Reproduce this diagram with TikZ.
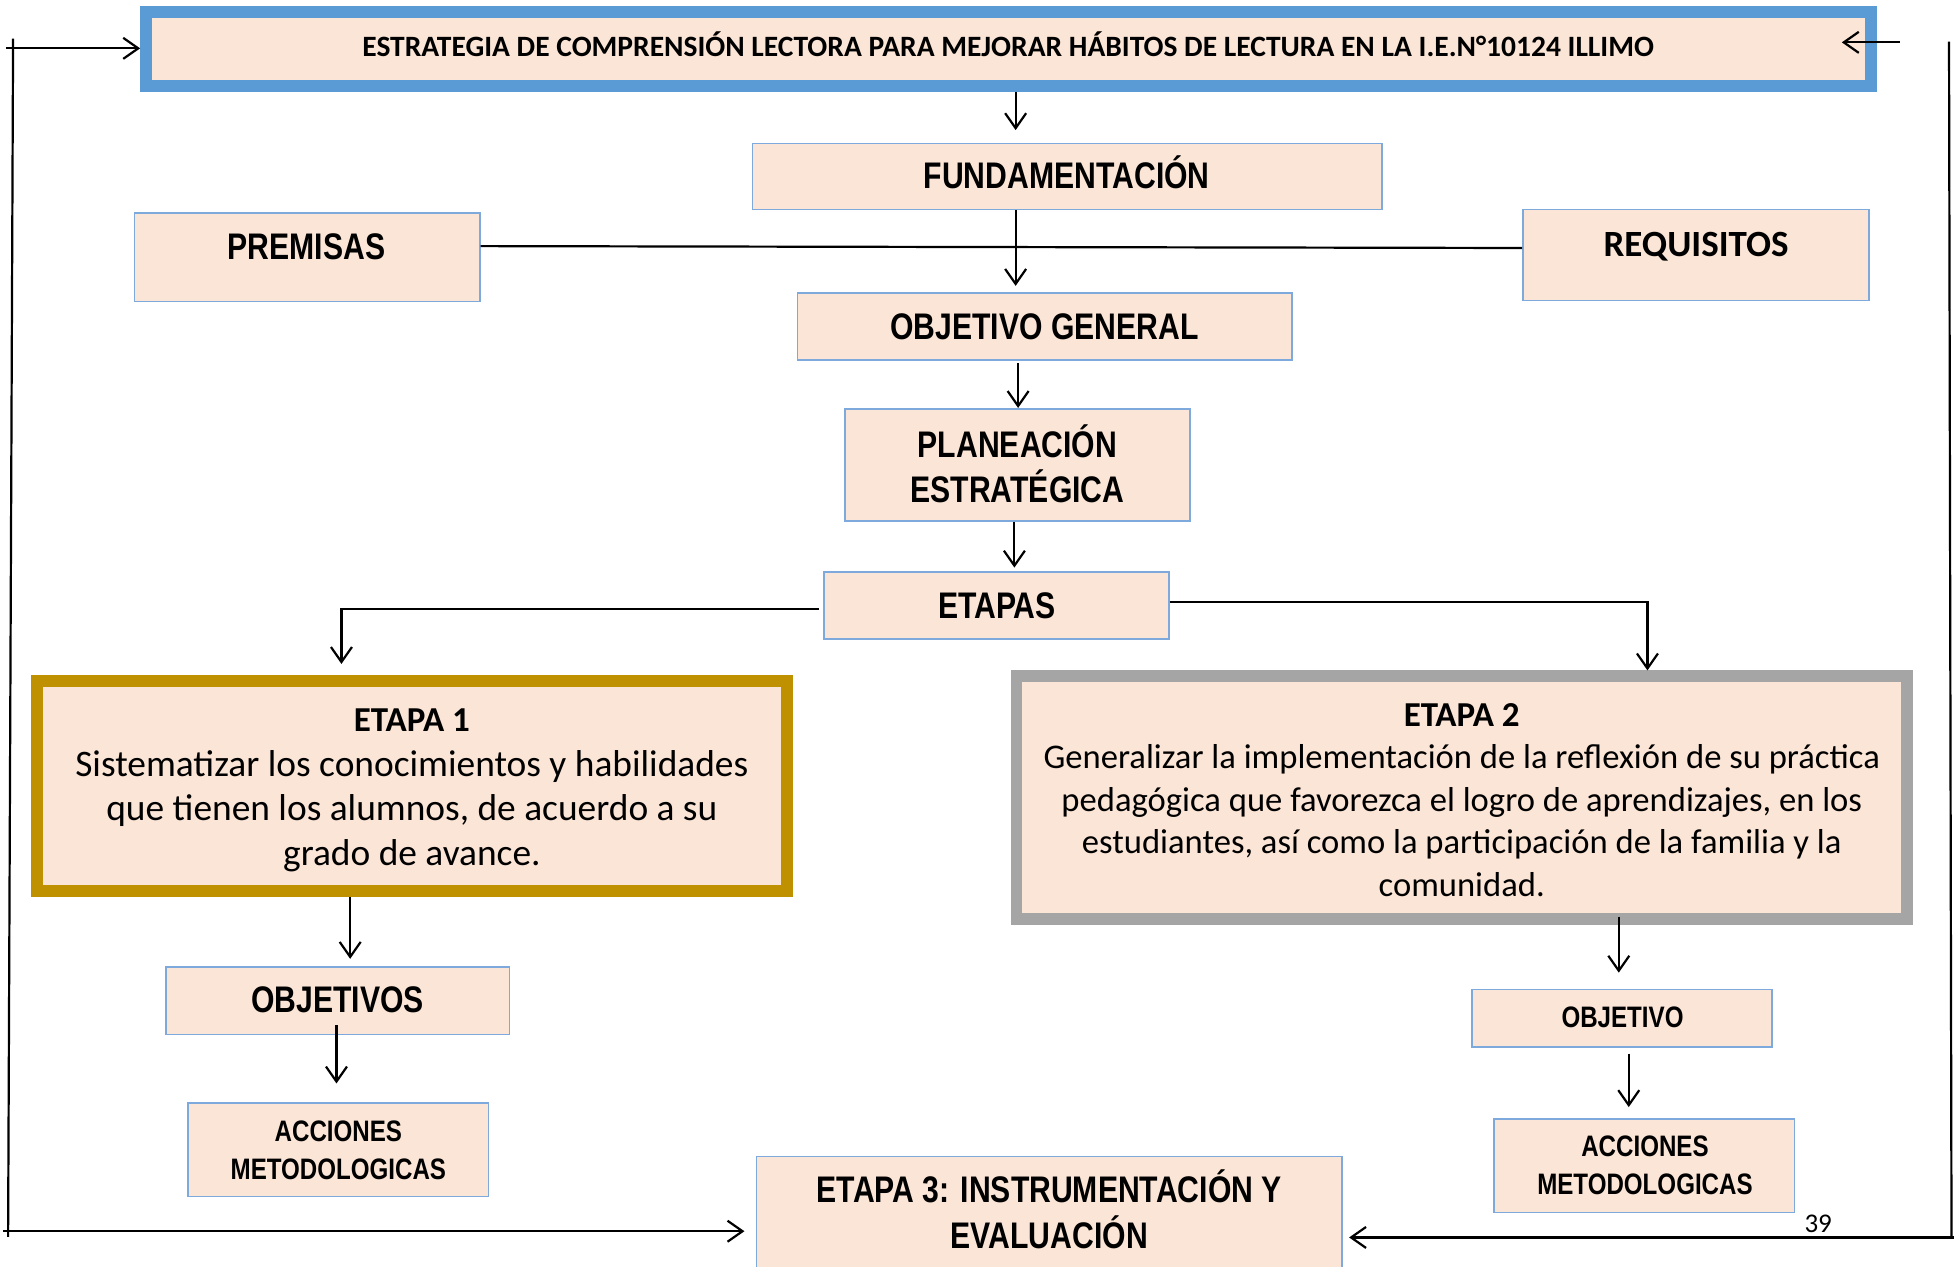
\documentclass[tikz,border=0pt]{standalone}
\usepackage{fontspec}
\setmainfont{Carlito}
\newfontfamily\narrow[FakeStretch=0.815]{Liberation Sans}
\usetikzlibrary{fit,calc,arrows.meta}
\definecolor{peach}{HTML}{FBE5D6}
\definecolor{bblue}{HTML}{5B9BD5}
\definecolor{boxline}{HTML}{7EA9DC}
\definecolor{gold}{HTML}{BF9000}
\definecolor{ggray}{HTML}{A5A5A5}
\begin{document}
\begin{tikzpicture}[x=0.6231pt,y=-0.6231pt,
  box/.style={draw=boxline, line width=0.8pt, fill=peach, inner sep=0pt},
  bigbox/.style={fill=peach, inner sep=0pt, line width=5.9pt},
  txt/.style={inner sep=0pt, align=center},
  nlab/.style={txt, font=\narrow\bfseries\fontsize{18.5}{22.4}\selectfont},
  slab/.style={txt, font=\narrow\bfseries\fontsize{14.8}{18.7}\selectfont},
  wire/.style={line width=1.1pt},
  arr/.style={line width=1.1pt, -{Straight Barb[length=7.5pt,width=10.5pt,line width=1.1pt]}}]
\useasboundingbox (0,0) rectangle (1568,1016.7);

% boxes
\node[bigbox, draw=bblue, fit={(117.2,9.6) (1501.4,69)}] (title) {};
\node[box, fit={(604,115) (1109,168)}] (fund) {};
\node[box, fit={(108,171) (385,242)}] (premisas) {};
\node[box, fit={(1222,168) (1500,241)}] (requisitos) {};
\node[box, fit={(640,235) (1037,289)}] (objgen) {};
\node[box, fit={(678,328) (955,418)}] (plan) {};
\node[box, fit={(661,459) (938,513)}] (etapas) {};
\node[bigbox, draw=gold, fit={(29.7,546.5) (631.5,715)}] (etapa1) {};
\node[bigbox, draw=ggray, fit={(815.7,542.7) (1530.3,737.3)}] (etapa2) {};
\node[box, fit={(133,776) (409,830)}] (objetivos) {};
\node[box, fit={(151,885) (392,960)}] (acc1) {};
\node[box, fit={(1181,794) (1422,840)}] (objetivo) {};
\node[box, fit={(1199,898) (1440,973)}] (acc2) {};
\node[box, fit={(607,928) (1077,1018)}] (etapa3) {};

% texts
\node[txt, anchor=base, font=\bfseries\fontsize{14.75}{17}\selectfont] (titleT) at (809,45.7)
  {ESTRATEGIA DE COMPRENSIÓN LECTORA PARA MEJORAR HÁBITOS DE LECTURA EN LA I.E.N°10124 ILLIMO};
\node[nlab, anchor=base] (fundT) at (856,151.5) {FUNDAMENTACIÓN};
\node[nlab, anchor=base] (premisasT) at (246,208) {PREMISAS};
\node[txt, anchor=base, font=\bfseries\fontsize{18.5}{22}\selectfont] (requisitosT) at (1361,205.5) {REQUISITOS};
\node[nlab, anchor=base] (objgenT) at (838,272.5) {OBJETIVO GENERAL};
\node[nlab] (planT) at (816.5,372) {PLANEACIÓN\\ESTRATÉGICA};
\node[nlab, anchor=base] (etapasT) at (800,496.5) {ETAPAS};
\node[txt, font=\fontsize{18.7}{22.3}\selectfont] (etapa1T) at (330.5,634.3)
  {{\bfseries\fontsize{17.5}{22.3}\selectfont ETAPA 1}\\Sistematizar los conocimientos y habilidades\\que tienen los alumnos, de acuerdo a su\\grado de avance.};
\node[txt, font=\fontsize{17.3}{21.2}\selectfont] (etapa2T) at (1173,642)
  {{\bfseries\fontsize{17.5}{21.2}\selectfont ETAPA 2}\\Generalizar la implementación de la reflexión de su práctica\\pedagógica que favorezca el logro de aprendizajes, en los\\estudiantes, así como la participación de la familia y la\\comunidad.};
\node[nlab, anchor=base] (objetivosT) at (271,812.5) {OBJETIVOS};
\node[slab] (acc1T) at (271.5,923) {ACCIONES\\METODOLOGICAS};
\node[slab, anchor=base] (objetivoT) at (1302,824.5) {OBJETIVO};
\node[slab] (acc2T) at (1320,935) {ACCIONES\\METODOLOGICAS};
\node[nlab, font=\narrow\bfseries\fontsize{18.5}{23}\selectfont] (etapa3T) at (842,970.5) {ETAPA 3: INSTRUMENTACIÓN Y\\EVALUACIÓN};
\node[txt, anchor=base, font=\fontsize{13.5}{16}\selectfont] (page) at (1459,989) {39};

% reference columns
\coordinate (c815) at (815,0);
\coordinate (c817) at (817,0);
\coordinate (c814) at (814,0);
\coordinate (c274) at (274,0);
\coordinate (c1322) at (1322,0);
\coordinate (c281) at (281,0);
\coordinate (c270) at (270,0);
\coordinate (c1299) at (1299,0);
\coordinate (c1307) at (1307,0);

% main flow
\draw[arr, shorten >=6.2pt] (c815 |- title.south) -- (c815 |- fund.north);
\draw[wire] ($(premisas.east)+(0,-9)$) -- ($(requisitos.west)+(0,-5.5)$);
\draw[arr, shorten >=3.1pt] (c815 |- fund.south) -- (c815 |- objgen.north);
\draw[arr, shorten <=1.2pt] (c817 |- objgen.south) -- (c817 |- plan.north);
\draw[arr, shorten >=1.8pt] (c814 |- plan.south) -- (c814 |- etapas.north);
\draw[arr, shorten >=5.6pt] ($(etapas.west)+(-3,3)$) -| (c274 |- etapa1.north);
\draw[arr] ($(etapas.east)+(0,-3)$) -| (c1322 |- etapa2.north);
\draw[arr, shorten >=3.7pt] (c281 |- etapa1.south) -- (c281 |- objetivos.north);
\draw[arr, shorten <=-5pt, shorten >=9.3pt] (c270 |- objetivos.south) -- (c270 |- acc1.north);
\draw[arr, shorten <=-4pt, shorten >=8pt] (c1299 |- etapa2.south) -- (c1299 |- objetivo.north);
\draw[arr, shorten <=3pt, shorten >=5.6pt] (c1307 |- objetivo.south) -- (c1307 |- acc2.north);

% feedback loops
\coordinate (L1) at (10.5,31);
\coordinate (L2) at (6.5,992.5);
\coordinate (LT) at (4.8,38.8);
\coordinate (LB) at (2.5,988);
\draw[wire] (L1) -- (L2);
\draw[arr] (LT) -- (LT -| title.west);
\draw[arr, shorten >=5.6pt] (LB) -- (LB -| etapa3.west);

\coordinate (R1) at (1564,33.4);
\coordinate (R2) at (1566,993);
\coordinate (RT) at (1524.7,34);
\coordinate (RTe) at (1478,34);
\coordinate (RB) at (1568,993);
\draw[wire] (R1) -- (R2);
\draw[arr] (RT) -- (RTe);
\draw[arr, shorten >=3.1pt] (RB) -- (RB -| etapa3.east);
\end{tikzpicture}
\end{document}
